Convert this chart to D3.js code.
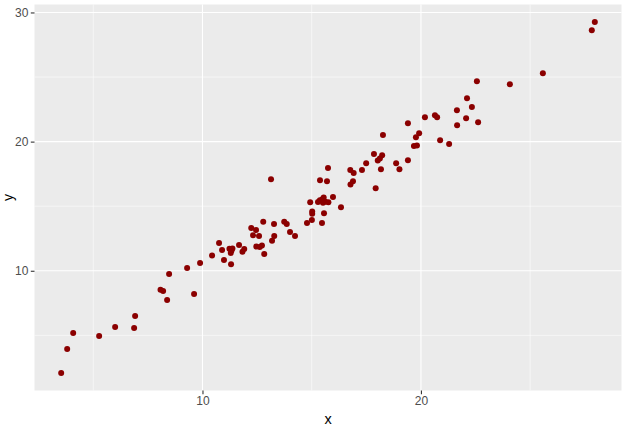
<!DOCTYPE html>
<html>
<head>
<meta charset="utf-8">
<script src="https://cdn.jsdelivr.net/npm/d3@7"></script>
<style>
  html, body { margin: 0; padding: 0; background: #ffffff; }
  svg { display: block; }
  text { font-family: "Liberation Sans", Arial, sans-serif; }
</style>
</head>
<body>
<svg id="chart" width="629" height="427"></svg>
<script>
// ---- data ----
const xValues = [3.532, 3.806, 4.081, 5.270, 6.002, 6.871, 6.917, 8.079, 8.198, 8.381,
  8.472, 9.296, 9.616, 9.890, 10.439, 10.759, 10.897, 10.984, 11.235, 11.327,
  11.372, 11.295, 11.308, 11.674, 11.830, 11.912, 12.232, 12.452, 12.315, 12.589,
  12.466, 12.621, 12.722, 12.827, 12.781, 13.138, 13.275, 13.285, 13.184, 13.742,
  13.857, 14.007, 14.236, 14.785, 15.009, 15.023, 15.023, 14.931, 15.288, 15.375,
  15.489, 15.549, 15.627, 15.517, 15.764, 15.974, 16.340, 15.471, 15.563, 15.380,
  15.700, 15.746, 16.766, 16.921, 17.301, 16.889, 16.775, 17.928, 17.493, 17.850,
  18.024, 18.120, 18.225, 18.170, 18.262, 18.865, 19.016, 19.405, 19.405, 19.680,
  19.817, 19.771, 19.918, 20.183, 20.640, 20.741, 20.878, 21.290, 21.647, 21.656,
  22.068, 22.109, 22.333, 22.562, 22.617, 24.071, 25.581, 27.822, 27.960];
const yValues = [2.088, 3.944, 5.182, 4.950, 5.646, 5.568, 6.497, 8.531, 8.430, 7.734,
  9.745, 10.209, 8.198, 10.595, 11.183, 12.142, 11.609, 10.828, 11.702, 11.547,
  11.725, 11.369, 10.503, 11.995, 11.477, 11.694, 13.302, 13.148, 12.746, 12.684,
  11.879, 11.833, 11.964, 11.292, 13.790, 17.092, 13.612, 12.691, 12.320, 13.797,
  13.612, 12.993, 12.684, 13.689, 13.929, 14.586, 14.408, 15.306, 15.321, 15.460,
  15.545, 15.669, 15.336, 15.259, 15.313, 15.708, 14.927, 13.689, 14.462, 17.015,
  16.937, 17.951, 17.811, 17.579, 17.796, 16.922, 16.682, 16.396, 18.329, 19.033,
  18.538, 18.693, 18.941, 17.865, 20.518, 18.329, 17.865, 18.561, 21.423, 19.667,
  19.706, 20.340, 20.650, 21.887, 22.042, 21.895, 20.108, 19.807, 22.436, 21.268,
  21.810, 23.357, 22.684, 24.671, 21.500, 24.439, 25.290, 28.616, 29.258];
const xMajorTicks = [10, 20];
const xMinorTicks = [5, 15, 25];
const yMajorTicks = [10, 20, 30];
const yMinorTicks = [5, 15, 25];
const xLabel = "x";
const yLabel = "y";

const points = xValues.map((x, i) => ({ x: x, y: yValues[i] }));

// ---- layout ----
const panel = { left: 34.5, right: 621.5, top: 4.5, bottom: 390.5 };
const svg = d3.select("#chart");

function expand(ext) {
  const pad = (ext[1] - ext[0]) * 0.05;
  return [ext[0] - pad, ext[1] + pad];
}
const xScale = d3.scaleLinear().domain(expand(d3.extent(xValues))).range([panel.left, panel.right]);
const yScale = d3.scaleLinear().domain(expand(d3.extent(yValues))).range([panel.bottom, panel.top]);

// panel background
svg.append("rect")
  .attr("x", panel.left).attr("y", panel.top)
  .attr("width", panel.right - panel.left).attr("height", panel.bottom - panel.top)
  .attr("fill", "#EBEBEB");

const grid = svg.append("g");
// minor grid
grid.selectAll("line.xminor").data(xMinorTicks).enter().append("line")
  .attr("x1", d => xScale(d)).attr("x2", d => xScale(d))
  .attr("y1", panel.top).attr("y2", panel.bottom)
  .attr("stroke", "#ffffff").attr("stroke-width", 0.55);
grid.selectAll("line.yminor").data(yMinorTicks).enter().append("line")
  .attr("y1", d => yScale(d)).attr("y2", d => yScale(d))
  .attr("x1", panel.left).attr("x2", panel.right)
  .attr("stroke", "#ffffff").attr("stroke-width", 0.55);
// major grid
grid.selectAll("line.xmajor").data(xMajorTicks).enter().append("line")
  .attr("x1", d => xScale(d)).attr("x2", d => xScale(d))
  .attr("y1", panel.top).attr("y2", panel.bottom)
  .attr("stroke", "#ffffff").attr("stroke-width", 1.1);
grid.selectAll("line.ymajor").data(yMajorTicks).enter().append("line")
  .attr("y1", d => yScale(d)).attr("y2", d => yScale(d))
  .attr("x1", panel.left).attr("x2", panel.right)
  .attr("stroke", "#ffffff").attr("stroke-width", 1.1);

// axes
const xAxis = d3.axisBottom(xScale).tickValues(xMajorTicks).tickSize(3.7).tickPadding(2.5);
const yAxis = d3.axisLeft(yScale).tickValues(yMajorTicks).tickSize(3.7).tickPadding(2.5);

const gx = svg.append("g").attr("transform", `translate(0,${panel.bottom})`).call(xAxis);
const gy = svg.append("g").attr("transform", `translate(${panel.left},0)`).call(yAxis);
[gx, gy].forEach(g => {
  g.select(".domain").remove();
  g.selectAll(".tick line").attr("stroke", "#333333").attr("stroke-width", 1.1);
  g.selectAll(".tick text")
    .attr("fill", "#4D4D4D")
    .style("font-size", "12px")
    .style("font-family", "'Liberation Sans', Arial, sans-serif");
});

// points
svg.append("g").selectAll("circle").data(points).enter().append("circle")
  .attr("cx", d => xScale(d.x))
  .attr("cy", d => yScale(d.y))
  .attr("r", 3)
  .attr("fill", "#8B0000");

// axis titles
svg.append("text")
  .attr("x", (panel.left + panel.right) / 2)
  .attr("y", 424)
  .attr("text-anchor", "middle")
  .attr("fill", "#000000")
  .style("font-size", "14.5px")
  .text(xLabel);

svg.append("text")
  .attr("transform", `translate(13,${(panel.top + panel.bottom) / 2}) rotate(-90)`)
  .attr("text-anchor", "middle")
  .attr("fill", "#000000")
  .style("font-size", "14px")
  .text(yLabel);
</script>
</body>
</html>
